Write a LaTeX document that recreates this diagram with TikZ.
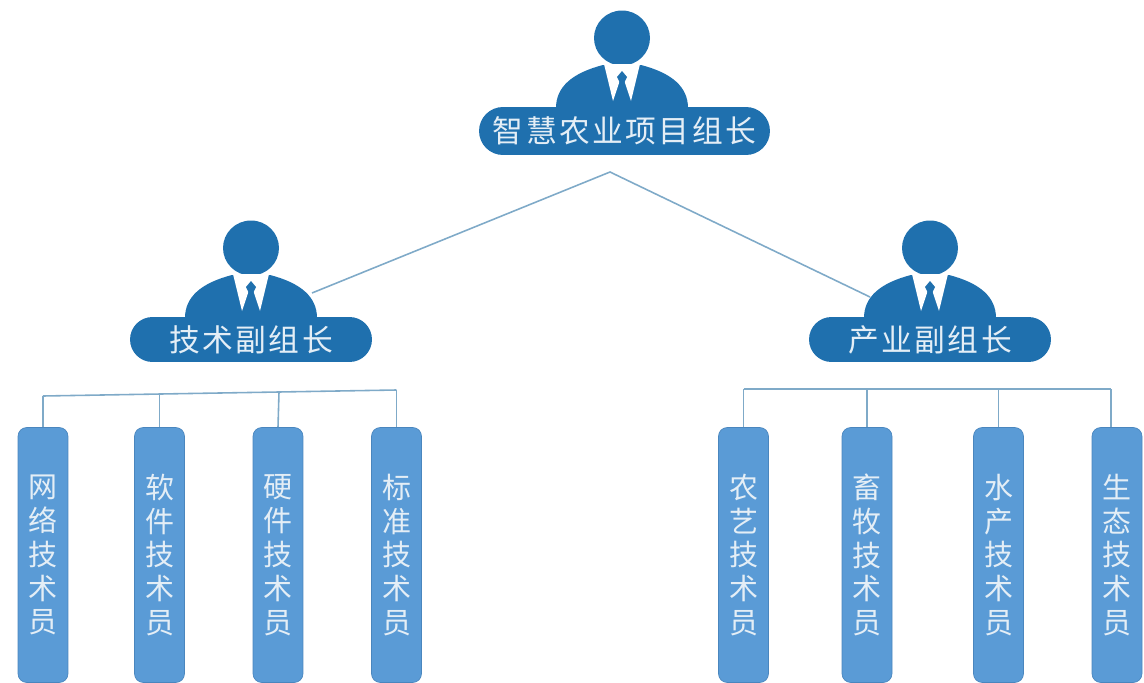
\documentclass[tikz,border=0pt]{standalone}
\usepackage{fontspec}
\newfontfamily\cjk[LetterSpace=8]{Noto Sans CJK SC}
\usetikzlibrary{shapes.misc}
\definecolor{suit}{HTML}{1F70AE}
\definecolor{staff}{HTML}{5A9BD6}
\definecolor{staffedge}{HTML}{4A86BE}
\definecolor{linkblue}{HTML}{7FAAC8}
\definecolor{textwhite}{HTML}{E4EEF6}
\tikzset{
    person/.pic={
        \fill[suit] (0,-69) ellipse [x radius=28, y radius=27.5];
        \fill[suit] (-66,1) .. controls (-66,-20) and (-50,-34) .. (-19,-42) -- (19,-42) .. controls (50,-34) and (66,-20) .. (66,1) -- cycle;
        \fill[white] (-18,-43) -- (-9,-6) -- (-1,-30) -- (1,-30) -- (9,-6) -- (18,-43) -- cycle;
        \fill[suit] (0,-36) -- (5,-30) -- (2.5,-25) -- (5.5,-6) -- (0,0) -- (-5.5,-6) -- (-2.5,-25) -- (-5,-30) -- cycle;
    },
    leader/.style={shape=rounded rectangle, fill=suit, text=textwhite, font=\cjk\fontsize{17.5}{20}\selectfont, inner sep=0pt, minimum width=4.84cm, minimum height=0.9cm},
    chief/.style={leader, minimum width=5.82cm, minimum height=0.96cm},
    staffbox/.style={shape=rectangle, rounded corners=5pt, fill=staff, draw=staffedge, text=textwhite, font=\cjk\fontsize{16.5}{19.3}\selectfont, align=center, inner sep=0pt, minimum width=1cm, minimum height=5.1cm},
    link/.style={draw=linkblue, line width=0.9pt}
}
\begin{document}
\begin{tikzpicture}[x=0.02cm,y=-0.02cm]
    \useasboundingbox (0,0) rectangle (1144,683);

    \pic at (622,107) {person};
    \pic at (251,317) {person};
    \pic at (930,317) {person};

    \node[chief] (head) at (624.5,131) {智慧农业项目组长};
    \node[leader] (tech) at (251,339.5) {技术副组长};
    \node[leader] (ind) at (930,339.5) {产业副组长};

    \node[staffbox] (net) at (43,555) {网\\络\\技\\术\\员};
    \node[staffbox] (soft) at (159.5,555) {软\\件\\技\\术\\员};
    \node[staffbox] (hard) at (278,555) {硬\\件\\技\\术\\员};
    \node[staffbox] (std) at (396.5,555) {标\\准\\技\\术\\员};
    \node[staffbox] (agri) at (743.5,555) {农\\艺\\技\\术\\员};
    \node[staffbox] (stock) at (867,555) {畜\\牧\\技\\术\\员};
    \node[staffbox] (water) at (998.5,555) {水\\产\\技\\术\\员};
    \node[staffbox] (eco) at (1117,555) {生\\态\\技\\术\\员};

    \coordinate (apex) at (610,172);
    \coordinate (techtop) at (312,293);
    \coordinate (indtop) at (870,297);
    \draw[link] (techtop) -- (apex) -- (indtop);

    % left bus
    \coordinate (lbus1) at (43,396);
    \coordinate (lbus2) at (159.5,394.5);
    \coordinate (lbus3) at (279,392);
    \coordinate (lbus4) at (396.5,390);
    \draw[link] (lbus1) -- (lbus4);
    \draw[link] (lbus1) -- (net.north);
    \draw[link] (lbus2) -- (soft.north);
    \draw[link] (lbus3) -- (hard.north);
    \draw[link] (lbus4) -- (std.north);

    % right bus
    \coordinate (rbus1) at (743.5,389);
    \coordinate (rbus2) at (867,389);
    \coordinate (rbus3) at (998.5,389);
    \coordinate (rbus4) at (1111,389);
    \coordinate (rdrop) at (1111,427);
    \draw[link] (rbus1) -- (rbus4);
    \draw[link] (rbus1) -- (agri.north);
    \draw[link] (rbus2) -- (stock.north);
    \draw[link] (rbus3) -- (water.north);
    \draw[link] (rbus4) -- (rdrop);
\end{tikzpicture}
\end{document}
